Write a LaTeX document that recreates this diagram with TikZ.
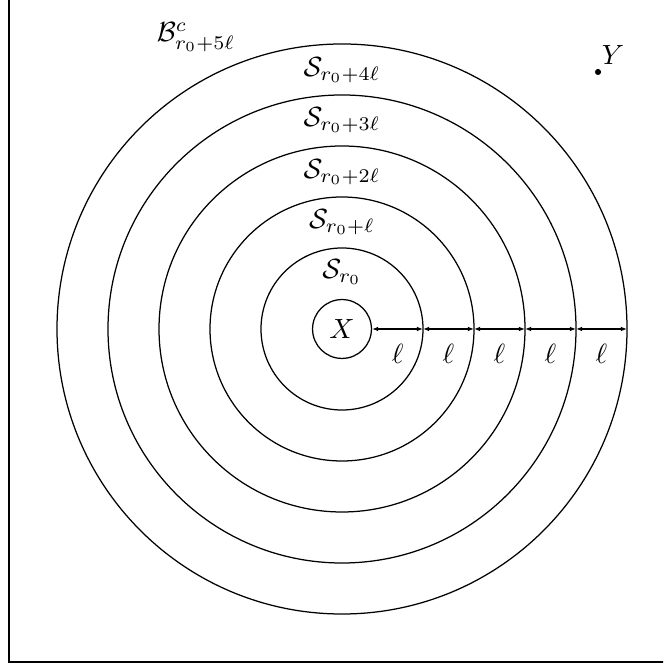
\documentclass[tikz,border=0pt]{standalone}
\usepackage{amsmath,amssymb}
\usepackage{tikz}
\usetikzlibrary{arrows.meta, positioning, calc}

\begin{document}
\begin{tikzpicture}[x=0.36pt, y=0.36pt,
  ring/.style={draw, line width=0.45pt},
  gap/.style={{Latex[length=2.2pt, width=1.7pt]}-{Latex[length=2.2pt, width=1.7pt]}, line width=0.45pt},
  shell/.style={inner sep=1pt}]
  \useasboundingbox (-342,-337) rectangle (321,329);
  \clip (-342,-337) rectangle (321,329);
  % frame
  \draw (-333,-333) rectangle (333,333);

  % centre ball and the rings
  \node[draw, circle, minimum size=21.2pt, inner sep=0pt, line width=0.45pt] (x) at (0,0) {$X$};
  \foreach \r in {81,132,183,234,285}
    \draw[ring] (x.center) circle[radius=\r];

  % ring labels
  \node[shell] (s0) at (0,57)  {$\mathcal{S}_{r_0}$};
  \node[shell] (s1) at (0,107) {$\mathcal{S}_{r_0+\ell}$};
  \node[shell] (s2) at (0,157) {$\mathcal{S}_{r_0+2\ell}$};
  \node[shell] (s3) at (0,209) {$\mathcal{S}_{r_0+3\ell}$};
  \node[shell] (s4) at (0,259) {$\mathcal{S}_{r_0+4\ell}$};
  \node[shell] (bc) at (-146,292) {$\mathcal{B}^c_{r_0+5\ell}$};

  % widths
  \coordinate (e0) at (x.east);
  \foreach \i/\r in {1/81,2/132,3/183,4/234,5/285}
    \coordinate (e\i) at (\r,0);
  \foreach \a/\b in {e0/e1,e1/e2,e2/e3,e3/e4,e4/e5}
    \draw[gap] (\a) -- (\b) node[midway, below=1.8pt] {$\ell$};

  % far point
  \coordinate (y) at (256,257);
  \fill (y) circle[radius=1.1pt];
  \node[shell] (ylab) at (271,274) {$Y$};
\end{tikzpicture}
\end{document}
